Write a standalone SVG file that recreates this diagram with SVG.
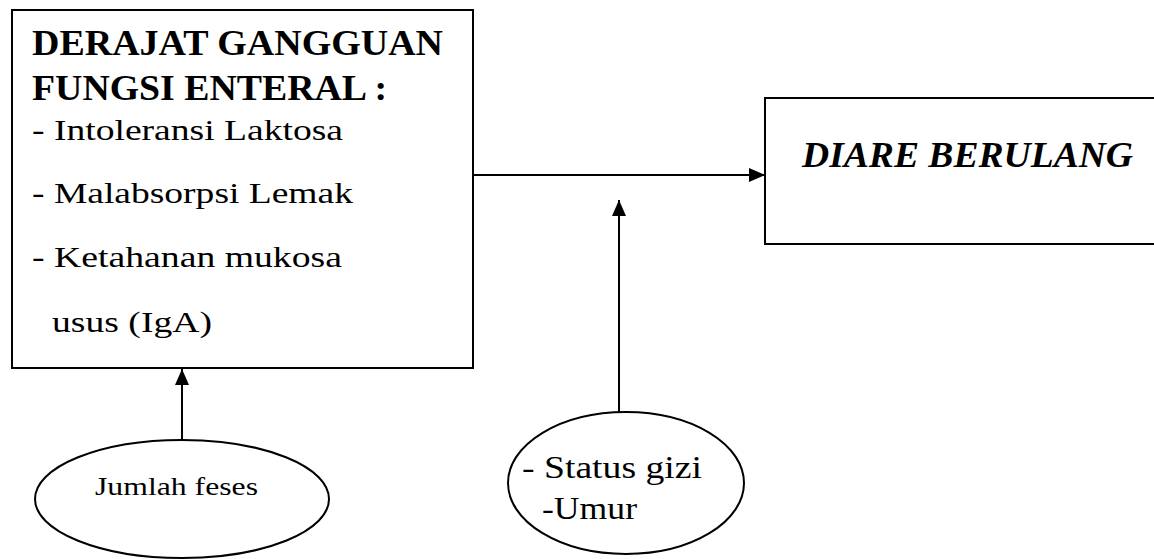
<svg xmlns="http://www.w3.org/2000/svg" width="1154" height="559" viewBox="0 0 1154 559">
<style>
.shape{fill:none;stroke:#000;stroke-width:2}
.line{fill:none;stroke:#000;stroke-width:2}
text{font-family:'Liberation Serif','Times New Roman',Times,'Nimbus Roman','Noto Serif',serif;fill:#000}
.b{font-weight:bold}
.bi{font-weight:bold;font-style:italic}
</style>
<defs>
<marker id="arr" viewBox="0 0 16 14" refX="16" refY="7" markerWidth="16" markerHeight="14" markerUnits="userSpaceOnUse" orient="auto">
<path d="M0,0 L16,7 L0,14 Z" fill="#000"/>
</marker>
</defs>
<rect width="1154" height="559" fill="#fff"/>
<g id="connectors">
<line class="line" x1="473" y1="175" x2="765" y2="175" marker-end="url(#arr)"/>
<line class="line" x1="619" y1="412" x2="619" y2="200" marker-end="url(#arr)"/>
<line class="line" x1="182" y1="440" x2="182" y2="369" marker-end="url(#arr)"/>
</g>
<g id="node-derajat">
<rect class="shape" x="12" y="10" width="461" height="358"/>
<text class="b" font-family="Liberation Serif" x="32" y="55" font-size="35" textLength="411" lengthAdjust="spacingAndGlyphs">DERAJAT GANGGUAN</text>
<text class="b" font-family="Liberation Serif" x="32" y="100" font-size="35" textLength="355" lengthAdjust="spacingAndGlyphs">FUNGSI ENTERAL :</text>
<text font-family="Liberation Serif" x="32" y="140" font-size="30" textLength="311" lengthAdjust="spacingAndGlyphs">- Intoleransi Laktosa</text>
<text font-family="Liberation Serif" x="32" y="203" font-size="30" textLength="321" lengthAdjust="spacingAndGlyphs">- Malabsorpsi Lemak</text>
<text font-family="Liberation Serif" x="32" y="267" font-size="30" textLength="310" lengthAdjust="spacingAndGlyphs">- Ketahanan mukosa</text>
<text font-family="Liberation Serif" x="52" y="332" font-size="30" textLength="160" lengthAdjust="spacingAndGlyphs">usus (IgA)</text>
</g>
<g id="node-diare">
<path class="shape" d="M1160,98 L765,98 L765,244 L1160,244"/>
<text class="bi" font-family="Liberation Serif" x="802" y="167" font-size="36" textLength="331" lengthAdjust="spacingAndGlyphs">DIARE BERULANG</text>
</g>
<g id="node-jumlah">
<ellipse class="shape" cx="182" cy="499" rx="147" ry="59"/>
<text font-family="Liberation Serif" x="95" y="495" font-size="26" textLength="163" lengthAdjust="spacingAndGlyphs">Jumlah feses</text>
</g>
<g id="node-status">
<ellipse class="shape" cx="626" cy="483" rx="118" ry="71"/>
<text font-family="Liberation Serif" x="522" y="478" font-size="32" textLength="180" lengthAdjust="spacingAndGlyphs">- Status gizi</text>
<text font-family="Liberation Serif" x="542" y="519" font-size="32" textLength="95" lengthAdjust="spacingAndGlyphs">-Umur</text>
</g>
</svg>
